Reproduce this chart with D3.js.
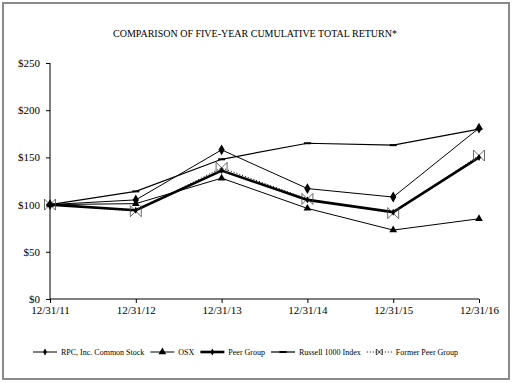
<!DOCTYPE html>
<html>
<head>
<meta charset="utf-8">
<script src="https://cdn.jsdelivr.net/npm/d3@7"></script>
<style>
  body { margin: 0; background: #fff; }
</style>
</head>
<body>
<svg id="mySVG" width="514" height="383" font-family="Liberation Serif"></svg>
<script>
// Data
const years = ["12/31/11", "12/31/12", "12/31/13", "12/31/14", "12/31/15", "12/31/16"];
const rpcValues = [100, 105, 158, 117, 108, 181];
const osxValues = [100, 101, 128, 96, 73, 85];
const peerValues = [100, 94, 136, 105, 92, 150];
const russellValues = [100, 114, 148, 165, 163, 180];
const formerPeerValues = [100, 93, 139, 106, 91, 152];
const yTicks = [0, 50, 100, 150, 200, 250];

const seriesNames = ["RPC, Inc. Common Stock", "OSX", "Peer Group", "Russell 1000 Index", "Former Peer Group"];

const FONT = "Liberation Serif";

const series = [
  { name: seriesNames[0], values: rpcValues, width: 1, marker: "diamond" },
  { name: seriesNames[1], values: osxValues, width: 1, marker: "triangle" },
  { name: seriesNames[2], values: peerValues, width: 2.6, marker: "smalldiamond" },
  { name: seriesNames[3], values: russellValues, width: 1.2, marker: "dash" },
  { name: seriesNames[4], values: formerPeerValues, width: 1, marker: "cross", dash: "1,2" }
];

const svg = d3.select("#mySVG");

// outer frame
svg.append("rect")
  .attr("x", 3).attr("y", 3)
  .attr("width", 506).attr("height", 376)
  .attr("fill", "none")
  .attr("stroke", "#8a8a8a")
  .attr("stroke-width", 2);

// title
svg.append("text")
  .attr("x", 255).attr("y", 37)
  .attr("text-anchor", "middle")
  .attr("font-family", FONT)
  .attr("font-size", "10px")
  .text("COMPARISON OF FIVE-YEAR CUMULATIVE TOTAL RETURN*");

const x = d3.scalePoint().domain(years).range([50, 479]);
const y = d3.scaleLinear().domain([0, 250]).range([299, 63]);

// axes
const xAxis = svg.append("g")
  .attr("transform", "translate(0,299)")
  .call(d3.axisBottom(x).tickSize(4).tickPadding(3));

const yAxis = svg.append("g")
  .attr("transform", "translate(50,0)")
  .call(d3.axisLeft(y).tickValues(yTicks).tickSize(4).tickPadding(6).tickFormat(d => "$" + d));

[xAxis, yAxis].forEach(ax => {
  ax.attr("font-family", FONT);
  ax.select(".domain").attr("stroke", "#000").attr("stroke-width", 1);
  ax.selectAll(".tick line").attr("stroke", "#000");
  ax.selectAll("text")
    .attr("fill", "#000")
    .attr("font-family", FONT)
    .attr("font-size", "11px");
});
// remove the outer ticks at the ends of the domain path
yAxis.select(".domain").attr("d", "M0,63V299");
xAxis.select(".domain").attr("d", "M50,0H479");

// marker drawing
function drawMarker(g, type, cx, cy) {
  if (type === "diamond") {
    g.append("path")
      .attr("d", d3.symbol(d3.symbolDiamond, 34)())
      .attr("transform", `translate(${cx},${cy})`)
      .attr("fill", "#000");
  } else if (type === "smalldiamond") {
    g.append("path")
      .attr("d", d3.symbol(d3.symbolDiamond, 14)())
      .attr("transform", `translate(${cx},${cy})`)
      .attr("fill", "#000");
  } else if (type === "triangle") {
    g.append("path")
      .attr("d", d3.symbol(d3.symbolTriangle, 26)())
      .attr("transform", `translate(${cx},${cy})`)
      .attr("fill", "#000");
  } else if (type === "dash") {
    g.append("rect")
      .attr("x", cx - 3.5).attr("y", cy - 1)
      .attr("width", 7).attr("height", 2)
      .attr("fill", "#000");
  } else if (type === "cross") {
    const s = 5.5;
    g.append("path")
      .attr("d", `M${cx - s},${cy - s}L${cx + s},${cy + s}M${cx - s},${cy + s}L${cx + s},${cy - s}M${cx - s},${cy - s}V${cy + s}M${cx + s},${cy - s}V${cy + s}`)
      .attr("stroke", "#444")
      .attr("stroke-width", 0.8)
      .attr("fill", "none");
  }
}

// lines
const line = d3.line()
  .x((d, i) => x(years[i]))
  .y(d => y(d));

const plot = svg.append("g");
// draw former peer first so the thick peer line sits on top
const drawOrder = [4, 3, 1, 0, 2];
drawOrder.forEach(idx => {
  const s = series[idx];
  plot.append("path")
    .datum(s.values)
    .attr("d", line)
    .attr("fill", "none")
    .attr("stroke", "#000")
    .attr("stroke-width", s.width)
    .attr("stroke-dasharray", s.dash || null);
});
drawOrder.forEach(idx => {
  const s = series[idx];
  s.values.forEach((v, i) => drawMarker(plot, s.marker, x(years[i]), y(v)));
});

// legend
const legend = svg.append("g");
let lx = 33;
const ly = 352;
series.forEach((s, i) => {
  const sw = i === 4 ? 25 : 24;
  legend.append("line")
    .attr("x1", lx).attr("x2", lx + sw)
    .attr("y1", ly).attr("y2", ly)
    .attr("stroke", "#000")
    .attr("stroke-width", s.width)
    .attr("stroke-dasharray", s.dash || null);
  if (s.marker === "cross") {
    const cx = lx + sw / 2;
    legend.append("path")
      .attr("d", `M${cx - 3},${ly - 3}L${cx + 3},${ly + 3}M${cx - 3},${ly + 3}L${cx + 3},${ly - 3}M${cx - 3},${ly - 3}V${ly + 3}M${cx + 3},${ly - 3}V${ly + 3}`)
      .attr("stroke", "#000").attr("stroke-width", 0.7).attr("fill", "none");
  } else {
    drawMarker(legend, s.marker === "diamond" ? "smalldiamond" : s.marker, lx + sw / 2, ly);
  }
  const t = legend.append("text")
    .attr("x", lx + sw + 4)
    .attr("y", ly + 3)
    .attr("font-family", FONT)
    .attr("font-size", "8px")
    .text(s.name);
  lx += sw + 4 + t.node().getComputedTextLength() + 6;
});
</script>
</body>
</html>
